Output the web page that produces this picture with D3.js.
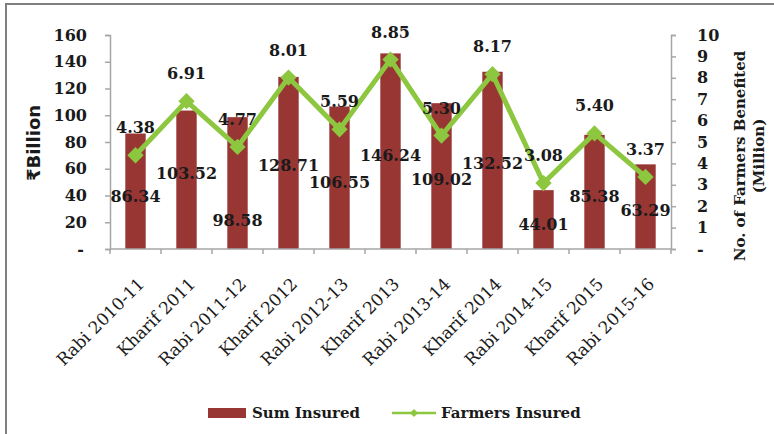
<!DOCTYPE html>
<html>
<head>
<meta charset="utf-8">
<script src="https://cdn.jsdelivr.net/npm/d3@7"></script>
<style>
  body { margin: 0; background: #fff; }
  text { font-family: 'DejaVu Serif', serif; fill: #1a1a1a; }
  .tick-label { font-size: 16px; font-weight: bold; }
  .data-label { font-size: 16px; font-weight: bold; }
  .cat-label { font-size: 17px; }
  .legend-label { font-size: 15px; font-weight: bold; }
  .axis-title { font-size: 15px; font-weight: bold; }
</style>
</head>
<body>
<div id="chart"></div>
<script>
const width = 774;
const height = 434;

const categories = ['Rabi 2010-11', 'Kharif 2011', 'Rabi 2011-12', 'Kharif 2012', 'Rabi 2012-13',
  'Kharif 2013', 'Rabi 2013-14', 'Kharif 2014', 'Rabi 2014-15', 'Kharif 2015', 'Rabi 2015-16'];
const sumInsured = [86.34, 103.52, 98.58, 128.71, 106.55, 146.24, 109.02, 132.52, 44.01, 85.38, 63.29];
const farmersInsured = [4.38, 6.91, 4.77, 8.01, 5.59, 8.85, 5.30, 8.17, 3.08, 5.40, 3.37];
const leftTicks = [0, 20, 40, 60, 80, 100, 120, 140, 160];
const rightTicks = [0, 1, 2, 3, 4, 5, 6, 7, 8, 9, 10];

// where the sum labels sit, in left-axis units (placed by hand in the original)
const sumLabelAt = [40, 57, 22, 63, 50, 70, 52, 64, 19, 40, 29];

const plotLeft = 110, plotRight = 671, plotTop = 35, plotBottom = 249;
const barColor = '#983634';
const lineColor = '#8dc63f';
const axisColor = '#a6a6a6';

const svg = d3.select('#chart').append('svg')
  .attr('width', width)
  .attr('height', height);

// outer frame
svg.append('rect')
  .attr('x', 6).attr('y', 4)
  .attr('width', 900).attr('height', 600)
  .attr('fill', 'none')
  .attr('stroke', '#7f7f7f')
  .attr('stroke-width', 2);

const x = d3.scaleBand()
  .domain(categories)
  .range([plotLeft, plotRight])
  .paddingInner(0.6)
  .paddingOuter(0.3);

const yLeft = d3.scaleLinear().domain([0, 160]).range([plotBottom, plotTop]);
const yRight = d3.scaleLinear().domain([0, 10]).range([plotBottom, plotTop]);

const fmtTick = d => d === 0 ? '-' : d;

// left axis
const leftAxis = svg.append('g')
  .attr('transform', translate(plotLeft, 0))
  .call(d3.axisLeft(yLeft).tickValues(leftTicks).tickSize(5).tickPadding(18).tickFormat(fmtTick));

// right axis
const rightAxis = svg.append('g')
  .attr('transform', translate(plotRight, 0))
  .call(d3.axisRight(yRight).tickValues(rightTicks).tickSize(5).tickPadding(21).tickFormat(fmtTick));

[leftAxis, rightAxis].forEach(g => {
  g.select('.domain').attr('stroke', axisColor).attr('stroke-width', 1.5);
  g.selectAll('.tick line').attr('stroke', axisColor).attr('stroke-width', 1.5);
  g.selectAll('.tick text').attr('class', 'tick-label').attr('font-family', null).attr('font-size', null).attr('fill', '#1a1a1a');
});
leftAxis.select('.tick text').attr('dx', -3);

// bars
svg.append('g')
  .selectAll('rect')
  .data(sumInsured)
  .join('rect')
  .attr('x', (d, i) => x(categories[i]))
  .attr('y', d => yLeft(d))
  .attr('width', x.bandwidth())
  .attr('height', d => yLeft(0) - yLeft(d))
  .attr('fill', barColor);

// x axis
const bounds = categories.map(c => x(c) - (x.step() - x.bandwidth()) / 2).concat([plotRight]);
svg.append('line')
  .attr('x1', plotLeft).attr('x2', plotRight)
  .attr('y1', plotBottom).attr('y2', plotBottom)
  .attr('stroke', axisColor).attr('stroke-width', 1.5);
svg.append('g')
  .selectAll('line')
  .data(bounds)
  .join('line')
  .attr('x1', d => d).attr('x2', d => d)
  .attr('y1', plotBottom).attr('y2', plotBottom + 5)
  .attr('stroke', axisColor).attr('stroke-width', 1.5);

svg.append('g')
  .selectAll('text')
  .data(categories)
  .join('text')
  .attr('class', 'cat-label')
  .attr('text-anchor', 'end')
  .attr('transform', d => translate(x(d) + x.bandwidth() / 2 + 10, plotBottom + 36) + ' rotate(-45)')
  .text(d => d);

// farmers line
const cx = i => x(categories[i]) + x.bandwidth() / 2;
const line = d3.line()
  .x((d, i) => cx(i))
  .y(d => yRight(d));

svg.append('path')
  .datum(farmersInsured)
  .attr('d', line)
  .attr('fill', 'none')
  .attr('stroke', lineColor)
  .attr('stroke-width', 5)
  .attr('stroke-linejoin', 'miter');

svg.append('g')
  .selectAll('path')
  .data(farmersInsured)
  .join('path')
  .attr('d', d3.symbol(d3.symbolDiamond2, 170))
  .attr('transform', (d, i) => translate(cx(i), yRight(d)))
  .attr('fill', lineColor);

// labels
svg.append('g')
  .selectAll('text')
  .data(farmersInsured)
  .join('text')
  .attr('class', 'data-label')
  .attr('text-anchor', 'middle')
  .attr('x', (d, i) => cx(i))
  .attr('y', d => yRight(d) - 22)
  .text(d => d.toFixed(2));

svg.append('g')
  .selectAll('text')
  .data(sumInsured)
  .join('text')
  .attr('class', 'data-label')
  .attr('text-anchor', 'middle')
  .attr('x', (d, i) => cx(i))
  .attr('y', (d, i) => yLeft(sumLabelAt[i]) + 6)
  .text(d => d.toFixed(2));

// axis titles
svg.append('text')
  .attr('transform', translate(40, 143) + ' rotate(-90)')
  .attr('text-anchor', 'middle')
  .style('font-family', "'DejaVu Sans', sans-serif")
  .style('font-size', '18px')
  .style('font-weight', '600')
  .text('₹Billion');

const rightTitle = svg.append('text')
  .attr('class', 'axis-title')
  .attr('transform', translate(745, 156) + ' rotate(-90)')
  .attr('text-anchor', 'middle');
rightTitle.append('tspan').attr('x', 0).attr('dy', 0).text('No. of Farmers Benefited');
rightTitle.append('tspan').attr('x', 0).attr('dy', 19).text('(Million)');

// legend
const legend = svg.append('g').attr('transform', translate(208, 413));
legend.append('rect')
  .attr('x', 0).attr('y', -5)
  .attr('width', 38).attr('height', 10)
  .attr('fill', barColor);
legend.append('text')
  .attr('class', 'legend-label')
  .attr('x', 44).attr('y', 5)
  .text('Sum Insured');
legend.append('line')
  .attr('x1', 184).attr('x2', 228)
  .attr('y1', 0).attr('y2', 0)
  .attr('stroke', lineColor).attr('stroke-width', 2.5);
legend.append('path')
  .attr('d', d3.symbol(d3.symbolDiamond2, 40))
  .attr('transform', translate(206, 0))
  .attr('fill', lineColor);
legend.append('text')
  .attr('class', 'legend-label')
  .attr('x', 233).attr('y', 5)
  .text('Farmers Insured');

function translate(a, b) {
  return 'translate(' + a + ',' + b + ')';
}
</script>
</body>
</html>
